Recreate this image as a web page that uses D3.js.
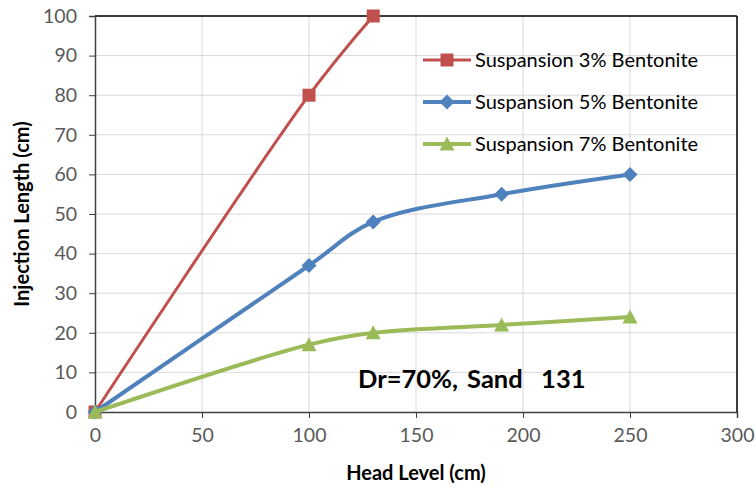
<!DOCTYPE html>
<html>

<head>
  <meta charset="utf8">
  <script src="https://d3js.org/d3.v7.min.js"></script>
  <style>
    body { margin: 0; background: #fff; }
    text { font-family: Lato, "Open Sans", sans-serif; }
    .tick text { fill: #595959; font-size: 19.5px; }
    .title { font-weight: bold; font-size: 20px; fill: #000; }
  </style>
</head>

<body>
  <svg id="chart" width="755" height="486"></svg>
  <script>
    var xTicks = [0, 50, 100, 150, 200, 250, 300];
    var yTicks = [0, 10, 20, 30, 40, 50, 60, 70, 80, 90, 100];

    var names = ['Suspansion 3% Bentonite', 'Suspansion 5% Bentonite', 'Suspansion 7% Bentonite'];
    var head3 = [0, 100, 130];
    var len3 = [0, 80, 100];
    var head5 = [0, 100, 130, 190, 250];
    var len5 = [0, 37, 48, 55, 60];
    var head7 = [0, 100, 130, 190, 250];
    var len7 = [0, 17, 20, 22, 24];

    var series = [
      { name: names[0], xs: head3, ys: len3, color: '#C0504D', width: 3, marker: 'square' },
      { name: names[1], xs: head5, ys: len5, color: '#4F81BD', width: 4, marker: 'diamond' },
      { name: names[2], xs: head7, ys: len7, color: '#9BBB59', width: 4, marker: 'triangle' },
    ];

    var chart = d3.select('#chart');
    var plotL = 95, plotR = 737, plotT = 16, plotB = 412;

    var x = d3.scaleLinear().domain([0, 300]).range([plotL, plotR]);
    var y = d3.scaleLinear().domain([0, 100]).range([plotB, plotT]);

    // grid
    chart.append('g').selectAll('line')
      .data(yTicks.slice(1))
      .enter().append('line')
      .attr('x1', plotL).attr('x2', plotR)
      .attr('y1', (d) => y(d)).attr('y2', (d) => y(d))
      .attr('stroke', '#d9d9d9').attr('stroke-width', 1);
    chart.append('g').selectAll('line')
      .data(xTicks.slice(1))
      .enter().append('line')
      .attr('x1', (d) => x(d)).attr('x2', (d) => x(d))
      .attr('y1', plotT).attr('y2', plotB)
      .attr('stroke', '#d9d9d9').attr('stroke-width', 1);

    // frame top/right
    chart.append('line').attr('x1', plotL).attr('x2', plotR).attr('y1', plotT).attr('y2', plotT)
      .attr('stroke', '#000').attr('stroke-width', 1.5);
    chart.append('line').attr('x1', plotR).attr('x2', plotR).attr('y1', plotT).attr('y2', plotB)
      .attr('stroke', '#000').attr('stroke-width', 1.5);

    var xAxis = chart.append('g')
      .attr('transform', 'translate(0,' + plotB + ')')
      .call(d3.axisBottom(x).tickValues(xTicks).tickSize(6).tickPadding(10));
    var yAxis = chart.append('g')
      .attr('transform', 'translate(' + plotL + ',0)')
      .call(d3.axisLeft(y).tickValues(yTicks).tickSize(6).tickPadding(12));
    [xAxis, yAxis].forEach(function (a) {
      a.select('.domain').attr('stroke', '#404040').attr('stroke-width', 1.5);
      a.selectAll('.tick line').attr('stroke', '#404040');
      a.selectAll('.tick text').attr('font-family', null).attr('font-size', null);
    });

    chart.append('text').attr('class', 'title')
      .attr('x', 416).attr('y', 480)
      .attr('text-anchor', 'middle').text('Head Level (cm)');
    chart.append('text').attr('class', 'title')
      .attr('transform', 'translate(29,' + 214 + ') rotate(-90)')
      .attr('text-anchor', 'middle').text('Injection Length (cm)');

    var line = d3.line()
      .x((d) => x(d[0]))
      .y((d) => y(d[1]))
      .curve(d3.curveCatmullRom.alpha(0.5));

    function markerPath(type) {
      if (type === 'square') return 'M-6.5,-6.5H6.5V6.5H-6.5Z';
      if (type === 'diamond') return 'M0,-7.5L7.5,0L0,7.5L-7.5,0Z';
      return 'M0,-7.5L7.5,6.5H-7.5Z';
    }

    series.forEach(function (s) {
      var pts = s.xs.map((v, i) => [v, s.ys[i]]);
      chart.append('path')
        .attr('d', line(pts))
        .attr('fill', 'none')
        .attr('stroke', s.color)
        .attr('stroke-width', s.width);
      chart.append('g').selectAll('path')
        .data(pts).enter().append('path')
        .attr('transform', (d) => 'translate(' + x(d[0]) + ',' + y(d[1]) + ')')
        .attr('d', markerPath(s.marker))
        .attr('fill', s.color);
    });

    // legend
    var legend = chart.append('g').attr('transform', 'translate(423,60)');
    series.forEach(function (s, i) {
      var g = legend.append('g').attr('transform', 'translate(0,' + i * 42 + ')');
      g.append('line').attr('x1', 0).attr('x2', 48).attr('y1', 0).attr('y2', 0)
        .attr('stroke', s.color).attr('stroke-width', s.width);
      g.append('path').attr('transform', 'translate(24,0)')
        .attr('d', markerPath(s.marker)).attr('fill', s.color);
      g.append('text').attr('x', 52).attr('y', 0).attr('dy', '0.35em')
        .attr('font-size', 20).attr('fill', '#000').text(s.name);
    });

    chart.append('text')
      .attr('x', 358).attr('y', 388)
      .attr('font-size', 25.5).attr('font-weight', 'bold').attr('fill', '#000')
      .style('white-space', 'pre')
      .style('word-spacing', '3px')
      .text('Dr=70%, Sand  131');
  </script>
</body>

</html>
